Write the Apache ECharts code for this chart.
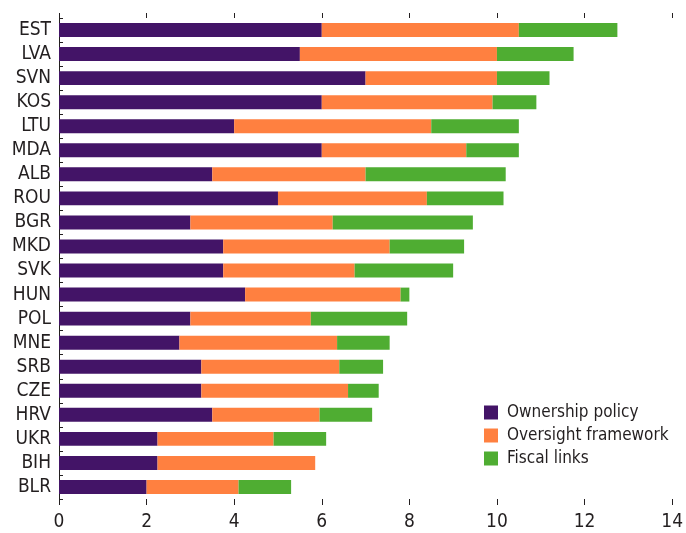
<!DOCTYPE html>
<html>
<head>
<meta charset="utf-8">
<script src="https://cdn.jsdelivr.net/npm/echarts@6/dist/echarts.min.js"></script>
<style>
  html, body { margin: 0; padding: 0; background: #fff; }
  #chart { width: 686px; height: 533px; }
</style>
</head>
<body>
<div id="chart"></div>
<script>
// country codes, top to bottom
var countries = ['EST', 'LVA', 'SVN', 'KOS', 'LTU', 'MDA', 'ALB', 'ROU', 'BGR', 'MKD',
  'SVK', 'HUN', 'POL', 'MNE', 'SRB', 'CZE', 'HRV', 'UKR', 'BIH', 'BLR'];

var ownership = [6, 5.5, 7, 6, 4, 6, 3.5, 5, 3, 3.75, 3.75, 4.25, 3, 2.75, 3.25, 3.25, 3.5, 2.25, 2.25, 2];
var oversight = [4.5, 4.5, 3, 3.9, 4.5, 3.3, 3.5, 3.4, 3.25, 3.8, 3, 3.55, 2.75, 3.6, 3.15, 3.35, 2.45, 2.65, 3.6, 2.1];
var fiscal = [2.25, 1.75, 1.2, 1, 2, 1.2, 3.2, 1.75, 3.2, 1.7, 2.25, 0.2, 2.2, 1.2, 1, 0.7, 1.2, 1.2, 0, 1.2];

var seriesNames = ['Ownership policy', 'Oversight framework', 'Fiscal links'];
var xTicks = [0, 14, 2];  // min, max, interval

var textFont = "'Liberation Sans Narrow', 'DejaVu Sans Condensed', sans-serif";
var ink = '#231f20';

function drawChart() {
    var dom = document.getElementById('chart');
    var myChart = echarts.init(dom, null, { renderer: 'canvas' });

    var barStyle = { barCategoryGap: '42%' };

    var option = {
        animation: false,
        color: ['#431467', '#ff8040', '#4fad32'],
        grid: {
            left: 59,
            right: 12,
            top: 18,
            bottom: 34
        },
        legend: {
            orient: 'vertical',
            left: 484,
            top: 404,
            padding: 0,
            itemWidth: 14,
            itemHeight: 14,
            itemGap: 6,
            icon: 'rect',
            data: seriesNames,
            textStyle: {
                fontFamily: textFont,
                fontSize: 17,
                color: ink,
                padding: [0, 0, 0, 4]
            }
        },
        xAxis: [
            {
                type: 'value',
                position: 'bottom',
                min: xTicks[0],
                max: xTicks[1],
                interval: xTicks[2],
                splitLine: { show: false },
                axisLine: { show: false },
                axisTick: { show: true, length: 6, lineStyle: { color: ink } },
                axisLabel: {
                    margin: 14,
                    fontFamily: textFont,
                    fontSize: 19,
                    color: ink
                }
            },
            {
                type: 'value',
                position: 'top',
                min: xTicks[0],
                max: xTicks[1],
                interval: xTicks[2],
                splitLine: { show: false },
                axisLine: { show: false },
                axisTick: { show: true, length: 5, lineStyle: { color: ink } },
                axisLabel: { show: false }
            }
        ],
        yAxis: {
            type: 'category',
            data: countries,
            inverse: true,
            axisLine: { show: true, lineStyle: { color: ink, width: 1 } },
            axisTick: { show: true, inside: true, length: 4, lineStyle: { color: ink } },
            axisLabel: {
                interval: 0,
                margin: 8,
                fontFamily: textFont,
                fontSize: 19,
                color: ink
            }
        },
        series: [
            Object.assign({ name: seriesNames[0], type: 'bar', stack: 'total', data: ownership }, barStyle),
            Object.assign({ name: seriesNames[1], type: 'bar', stack: 'total', data: oversight }, barStyle),
            Object.assign({ name: seriesNames[2], type: 'bar', stack: 'total', data: fiscal }, barStyle)
        ]
    };

    myChart.setOption(option);
    window.addEventListener('resize', myChart.resize);
}

drawChart();
</script>
</body>
</html>
